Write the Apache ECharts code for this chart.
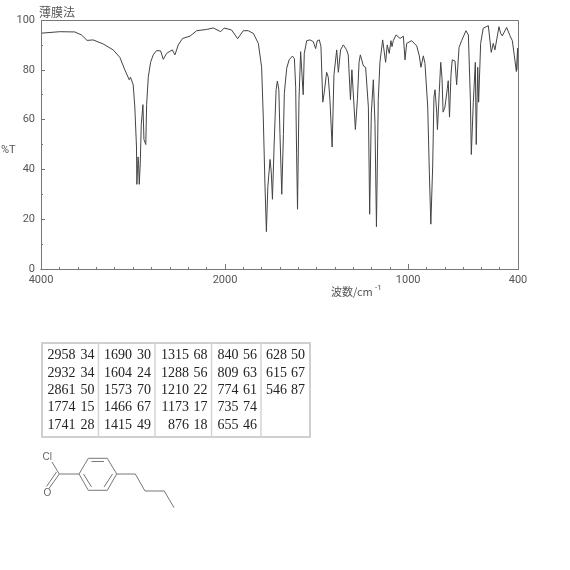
<!DOCTYPE html>
<html><head><meta charset="utf-8">
<script src="https://cdn.jsdelivr.net/npm/echarts@6/dist/echarts.min.js"></script>
<style>html,body{margin:0;padding:0;background:#fff}#c{width:570px;height:570px}</style>
</head><body><div id="c"></div>
<script>
// Spectrum, 4000-2000 cm-1 part of the axis
const wnHigh=[4000,3797,3633,3560,3499,3434,3325,3216,3143,3089,3041,3027,2998,2980,2962,2958,2951,2945,2939,2932,2921,2910,2892,2881,2861,2852,2834,2809,2780,2744,2700,2671,2635,2573,2544,2508,2461,2381,2308,2200,2127,2047,2011,2000];
const tHigh=[94.7,95.3,95.2,94,91.8,92,90.4,88,85,80,76,77,74,65,49,34,40,45,42,34,42.5,58,66,52,50,66,77,83,86,87.7,87.6,84.2,86.6,88,86,90,92.6,93.5,95.7,96.2,96.8,95.3,96.7,96.7];
// Spectrum, 2000-400 cm-1 part of the axis
const wnLow=[2000,1964,1931,1900,1873,1845,1818,1800,1791,1782,1774,1766,1754,1747,1741,1732,1721,1714,1706,1700,1690,1681,1676,1672,1663,1650,1632,1621,1614,1609,1604,1596,1587,1581,1573,1567,1554,1536,1518,1505,1496,1485,1476,1466,1458,1445,1436,1427,1415,1405,1390,1381,1369,1354,1336,1327,1315,1307,1299,1288,1277,1268,1261,1244,1232,1217,1210,1201,1190,1181,1173,1163,1154,1139,1132,1123,1114,1103,1094,1088,1081,1066,1044,1026,1017,1008,981,953,939,930,917,908,893,884,876,866,859,853,844,840,830,822,815,809,799,786,781,774,766,759,744,735,722,708,699,684,671,660,655,644,633,628,620,615,604,590,562,546,535,526,504,495,486,462,444,431,420,409,402,400];
const tLow=[96.7,96,92.5,95.7,95.7,94.6,90.6,81,61,34.5,15,33,44,38.5,28,49,72,75.5,72,54.5,30,54,70.6,70.6,80.6,84,85.5,84.5,73,46.5,24,68,87.3,87.3,70,86.6,91.7,92,91.3,88.5,91.7,92,89.3,67,71,79,77,68,49,78,88,79,88,90,88,86,68,80,79.7,56,68,83,86,81.5,81,65,22,62.6,76,58.5,17,68,83,92,92,83,90,86.6,91.7,89.3,91.7,94,92.6,93.5,84,90.6,91.7,89.6,85.6,81,85.6,82.6,65,38.5,18,41,69,72,63,56,71,83,76.6,63,65,72.5,75.6,61,78,84,83.5,74,89,91.7,91,95.7,94,68,46,67,83,50,81,67,90.6,96.7,97.7,87,90.6,88,97.3,94.7,93.6,97,93.7,91.7,85.6,79.3,88.7,80];
// Axis ticks and labels
const minorTicksHigh=200, minorTicksLow=100, majorHigh=[4000,2000], majorLow=[1000,400];
const yMinor=10, yMajor=20;
// Peak table: wavenumber, %T by column
const peakWn=[["2958","2932","2861","1774","1741"],["1690","1604","1573","1466","1415"],["1315","1288","1210","1173","876"],["840","809","774","735","655"],["628","615","546"]];
const peakT=[["34","34","50","15","28"],["30","24","70","67","49"],["68","56","22","17","18"],["56","63","61","74","46"],["50","67","87"]];
const methodLabel="薄膜法", yLabel="%T", xLabel="波数/cm";

const F='Roboto';
const INK='#555', LINE='#444';
const G=[{left:41,top:20,width:184,height:249},{left:225,top:20,width:293,height:249}];
const hx=(i,min,max,interval,len,labels,custom)=>({gridIndex:i,type:'value',position:'bottom',min,max,inverse:true,interval,
  axisLine:{show:true,onZero:false,lineStyle:{color:'#777'}},splitLine:{show:false},
  axisTick:{show:true,inside:true,length:len,lineStyle:{color:'#777'},...(custom?{customValues:custom}:{})},
  axisLabel:labels?{show:true,customValues:custom,formatter:v=>String(v),color:INK,fontFamily:F,fontSize:11,margin:6,hideOverlap:false,showMinLabel:true,showMaxLabel:true}:{show:false}});
const hy=(i,interval,len,labels)=>({gridIndex:i,type:'value',position:'left',min:0,max:100,interval,
  axisLine:{show:false},splitLine:{show:false},
  axisTick:{show:i===0,inside:true,length:len,lineStyle:{color:'#777'}},
  axisLabel:{show:labels&&i===0,color:INK,fontFamily:F,fontSize:11,margin:6,padding:[6,0,0,0]}});

const colX=[[75.5,80.5],[132,137],[189,193.5],[238.5,243],[287,291]];
const rowY=[355.5,373,390.5,407.5,425];
const dividers=[98.5,155,211.5,261];
const g=[];
g.push({type:'rect',shape:{x:41.5,y:20.5,width:477,height:249},style:{fill:'none',stroke:'#777',lineWidth:1},z:5});
const txt=(x,y,text,o)=>g.push({type:'text',x,y,style:{text,fill:INK,font:'12px "Noto Sans CJK JP"',textAlign:'left',textVerticalAlign:'middle',...o}});
txt(39,12,methodLabel);
txt(1,150,yLabel,{font:'11px '+F});
txt(331,292,xLabel,{font:'11px "Noto Sans CJK JP"'});
txt(375,288,'-1',{font:'8px '+F});
// table frame
g.push({type:'rect',shape:{x:42,y:343,width:268,height:94},style:{fill:'none',stroke:'#cfcfcf',lineWidth:2}});
dividers.forEach(x=>g.push({type:'line',shape:{x1:x,y1:343,x2:x,y2:437},style:{stroke:'#d4d4d4',lineWidth:1.5}}));
peakWn.forEach((col,c)=>col.forEach((w,r)=>{
  const f={font:'14px "Liberation Serif"',fill:'#222'};
  txt(colX[c][0],rowY[r],w,{...f,textAlign:'right'});
  txt(colX[c][1],rowY[r],peakT[c][r],{...f});
}));
// structure
const bond=(x1,y1,x2,y2)=>g.push({type:'line',shape:{x1,y1,x2,y2},style:{stroke:'#777',lineWidth:1}});
[[59.3,474,79,474],[79,474,88.3,458.3],[88.3,458.3,107.3,458.3],[107.3,458.3,116.7,474],[116.7,474,107.3,490.3],[107.3,490.3,88.3,490.3],[88.3,490.3,79,474],
 [91.5,461.5,104,461.5],[112.5,474,104,487],[83.5,474,91.5,487],
 [116.7,474,135.3,474],[135.3,474,145,491],[145,491,164.3,491],[164.3,491,174,507.7],
 [52,462,59.3,474],[59.3,474,49,488.5],[56.5,472,46.5,486.5]].forEach(b=>bond(...b));
txt(42.5,457,'Cl',{font:'10px "Liberation Sans"',fill:'#666'});
txt(43.5,493,'O',{font:'10px "Liberation Sans"',fill:'#666'});

const chart=echarts.init(document.getElementById('c'),null,{renderer:'canvas'});
chart.setOption({animation:false,backgroundColor:'#fff',grid:G,
 xAxis:[hx(0,2000,4000,minorTicksHigh,2,false),hx(1,400,2000,minorTicksLow,2,false),
        hx(0,2000,4000,2000,5,true,majorHigh),hx(1,400,2000,1000,5,true,majorLow)],
 yAxis:[hy(0,yMinor,2,false),hy(0,yMajor,4,true),hy(1,yMinor,2,false)],
 series:[
  {type:'line',xAxisIndex:0,yAxisIndex:0,data:wnHigh.map((w,i)=>[w,tHigh[i]]),showSymbol:false,symbol:'none',lineStyle:{color:LINE,width:1},silent:true},
  {type:'line',xAxisIndex:1,yAxisIndex:2,data:wnLow.map((w,i)=>[w,tLow[i]]),showSymbol:false,symbol:'none',lineStyle:{color:LINE,width:1},silent:true}
 ],
 graphic:g});
</script></body></html>
